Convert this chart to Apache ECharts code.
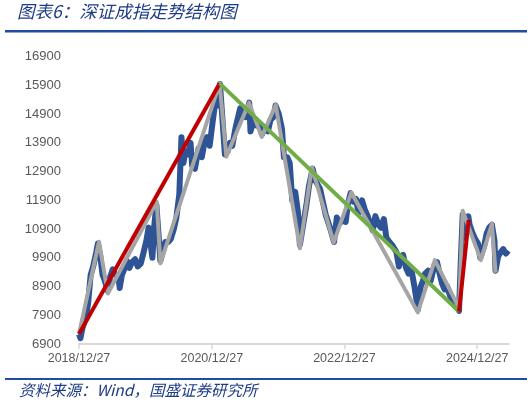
<!DOCTYPE html>
<html>
<head>
<meta charset="utf-8">
<script src="https://cdn.jsdelivr.net/npm/echarts@6/dist/echarts.min.js"></script>
<style>
html,body{margin:0;padding:0;background:#fff;}
#c{width:532px;height:404px;}
</style>
</head>
<body>
<div id="c"></div>
<script>
// ---- Data ----
const titleText = '图表6：深证成指走势结构图';
const sourceText = '资料来源：Wind，国盛证券研究所';
const xTickLabels = ['2018/12/27', '2020/12/27', '2022/12/27', '2024/12/27'];
const xTickDates = ['2018-12-27', '2020-12-27', '2022-12-27', '2024-12-27'];
const yTickLabels = [6900, 7900, 8900, 9900, 10900, 11900, 12900, 13900, 14900, 15900, 16900];
const xEndDate = '2025-06-20';

// Shenzhen Component Index (blue)
const indexDates = [
'2018-12-27','2019-01-04','2019-01-15','2019-02-01','2019-02-15','2019-03-01','2019-03-15','2019-04-01','2019-04-10','2019-04-22',
'2019-05-06','2019-05-16','2019-06-03','2019-06-17','2019-07-01','2019-07-15','2019-08-01','2019-08-08','2019-08-20','2019-09-02',
'2019-09-16','2019-10-01','2019-10-15','2019-11-01','2019-11-15','2019-12-02','2019-12-16',
'2020-01-02','2020-01-14','2020-01-23','2020-02-04','2020-02-14','2020-02-26','2020-03-06','2020-03-19','2020-04-01','2020-04-15',
'2020-05-01','2020-05-15','2020-06-01','2020-06-15','2020-07-01','2020-07-13','2020-07-24','2020-08-03','2020-08-17','2020-09-01',
'2020-09-10','2020-09-25','2020-10-15','2020-11-02','2020-11-16','2020-12-01','2020-12-15','2020-12-31',
'2021-01-15','2021-01-25','2021-02-01','2021-02-10','2021-02-25','2021-03-09','2021-03-24','2021-04-06','2021-04-19','2021-05-06',
'2021-05-17','2021-06-01','2021-06-15','2021-07-01','2021-07-21','2021-07-28','2021-08-16','2021-09-01','2021-09-15','2021-09-29',
'2021-10-15','2021-11-01','2021-11-15','2021-12-01','2021-12-13','2021-12-31',
'2022-01-17','2022-01-28','2022-02-15','2022-03-01','2022-03-15','2022-03-31','2022-04-15','2022-04-26','2022-05-10','2022-05-31',
'2022-06-15','2022-07-05','2022-07-20','2022-08-15','2022-09-01','2022-09-15','2022-10-11','2022-10-31','2022-11-15','2022-12-01',
'2022-12-15',
'2023-01-03','2023-01-16','2023-01-30','2023-02-15','2023-03-01','2023-03-15','2023-04-03','2023-04-17','2023-05-04','2023-05-15',
'2023-06-01','2023-06-15','2023-07-03','2023-07-17','2023-08-01','2023-08-15','2023-09-01','2023-09-15','2023-10-09','2023-10-23',
'2023-11-01','2023-11-15','2023-12-01','2023-12-15','2023-12-29',
'2024-01-15','2024-02-05','2024-02-20','2024-03-01','2024-03-15','2024-04-01','2024-04-15','2024-05-06','2024-05-20','2024-06-03',
'2024-06-17','2024-07-01','2024-07-15','2024-08-01','2024-08-15','2024-09-02','2024-09-18','2024-09-27','2024-10-08','2024-10-17',
'2024-11-01','2024-11-08','2024-11-15','2024-12-02','2024-12-16','2024-12-31',
'2025-01-13','2025-02-03','2025-02-17','2025-03-03','2025-03-18','2025-04-01','2025-04-07','2025-04-21','2025-05-06','2025-05-19',
'2025-06-03','2025-06-16'
];
const indexValues = [
7250,7100,7450,7800,8300,9300,9600,10100,10400,10000,
9300,9150,8750,9250,9500,9300,9250,8850,9300,9500,
9800,9550,9750,9850,9600,9700,10050,
10500,10950,10500,9900,11000,11750,11700,9800,10100,10450,
10450,10550,10900,11300,12100,14100,13200,13600,13500,13900,
13100,13000,13700,13400,13900,14100,13800,14600,
15300,15600,15200,15950,14600,13500,13600,13900,13800,14400,
14700,15100,14900,14800,15300,14300,14700,14500,14500,14200,
14400,14300,14700,14800,15200,14900,
14400,13400,13400,13200,11900,12200,11500,10350,10900,11700,
12400,13000,12600,12300,11800,11400,10900,10450,11300,11100,
11200,
11150,11800,12150,11850,11950,11450,11900,11600,11350,11150,
10850,11350,11050,10950,11250,10600,10450,10350,10100,9600,
9950,10000,9550,9350,9550,
8950,8100,8900,9050,9350,9450,9100,9650,9750,9350,
9000,8800,8900,8550,8400,8250,8050,9700,11400,10600,
10800,11350,11050,10750,10550,10400,
9900,10300,10750,10950,11050,10500,9450,9950,10100,10200,
10050,10150
];

// Swing structure (grey zigzag)
const swingDates = ['2018-12-27','2019-04-16','2019-06-04','2020-02-28','2020-03-19','2021-02-08','2021-03-17','2021-07-20',
  '2021-09-28','2021-12-14','2022-04-26','2022-07-01','2022-10-29','2023-02-03','2024-02-04','2024-05-08','2024-09-18',
  '2024-10-08','2025-01-16','2025-03-18','2025-04-07'];
const swingValues = [7250,10460,8660,11850,9710,15970,13420,15300,14110,15220,10230,13050,10430,12170,8000,9820,8150,
  11540,9820,11080,9380];

// Trend lines
const upTrend1Dates = ['2018-12-27', '2021-02-08'];
const upTrend1Values = [7250, 15970];
const downTrendDates = ['2021-02-08', '2024-09-18'];
const downTrendValues = [15970, 8030];
const upTrend2Dates = ['2024-09-18', '2024-11-10'];
const upTrend2Values = [8030, 11220];

// ---- Helpers ----
const DAY0 = Date.parse('2018-12-27T00:00:00Z');
function yrs(d) { return (Date.parse(d + 'T00:00:00Z') - DAY0) / (365.25 * 86400000); }
function pairs(dates, vals) { return dates.map((d, i) => [yrs(d), vals[i]]); }
const xTickVals = xTickDates.map(yrs);

const chart = echarts.init(document.getElementById('c'), null, { renderer: 'canvas' });
const titleColor = '#1F3C88';
const lineColor = '#1F4E9E';

chart.setOption({
  animation: false,
  backgroundColor: '#ffffff',
  grid: { left: 79, right: 23, top: 56.7, bottom: 60 },
  xAxis: {
    type: 'value',
    min: 0,
    max: yrs(xEndDate),
    splitLine: { show: false },
    axisLine: { show: true, onZero: false, lineStyle: { color: '#D9D9D9', width: 2 } },
    axisTick: { show: true, length: 5, customValues: xTickVals, lineStyle: { color: '#D9D9D9', width: 1.5 } },
    axisLabel: {
      customValues: xTickVals,
      margin: 8,
      color: '#595959',
      fontFamily: 'Liberation Sans',
      fontSize: 12.5,
      formatter: function (v) {
        let best = 0;
        xTickVals.forEach((t, i) => { if (Math.abs(t - v) < Math.abs(xTickVals[best] - v)) best = i; });
        return xTickLabels[best];
      }
    }
  },
  yAxis: {
    type: 'value',
    min: yTickLabels[0],
    max: yTickLabels[yTickLabels.length - 1],
    splitLine: { show: false },
    axisLine: { show: false },
    axisTick: { show: false },
    axisLabel: {
      customValues: yTickLabels,
      margin: 18,
      color: '#595959',
      fontFamily: 'Liberation Sans',
      fontSize: 13,
      formatter: function (v) { return String(Math.round(v)); }
    }
  },
  series: [
    { name: '深证成指', type: 'line', data: pairs(indexDates, indexValues), showSymbol: false, z: 2,
      lineStyle: { color: '#2F5496', width: 6, join: 'round' } },
    { name: '结构', type: 'line', data: pairs(swingDates, swingValues), showSymbol: false, z: 3,
      lineStyle: { color: '#A5A5A5', width: 4, join: 'round' } },
    { name: '上升1', type: 'line', data: pairs(upTrend1Dates, upTrend1Values), showSymbol: false, z: 4,
      lineStyle: { color: '#C00000', width: 4 } },
    { name: '下降', type: 'line', data: pairs(downTrendDates, downTrendValues), showSymbol: false, z: 4,
      lineStyle: { color: '#70AD47', width: 4 } },
    { name: '上升2', type: 'line', data: pairs(upTrend2Dates, upTrend2Values), showSymbol: false, z: 4,
      lineStyle: { color: '#C00000', width: 4 } }
  ],
  graphic: [
    { type: 'text', left: 17, top: 3, style: { text: titleText, fill: titleColor,
      font: 'italic 17.5px "Noto Sans CJK SC", sans-serif' } },
    { type: 'rect', shape: { x: 5, y: 30, width: 522, height: 2.5 }, style: { fill: lineColor } },
    { type: 'rect', shape: { x: 5, y: 378, width: 522, height: 2 }, style: { fill: lineColor } },
    { type: 'text', left: 19, top: 382, style: { text: sourceText, fill: titleColor,
      font: 'italic 15.5px "Noto Sans CJK SC", sans-serif' } }
  ]
});
</script>
</body>
</html>
